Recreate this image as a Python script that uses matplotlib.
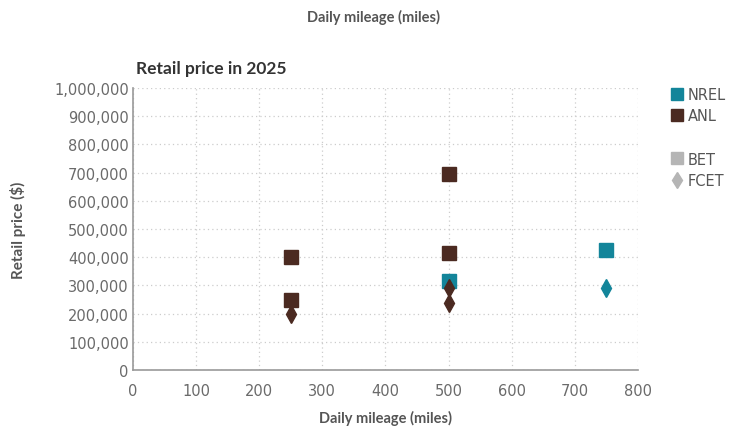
import matplotlib.pyplot as plt
from matplotlib.lines import Line2D
from matplotlib.ticker import FuncFormatter

# --- DATA ---
nrel_bet_miles = [500, 750]
nrel_bet_price = [314000, 425000]
nrel_fcet_miles = [750]
nrel_fcet_price = [290000]

anl_bet_miles = [250, 250, 500, 500]
anl_bet_price = [400000, 250000, 695000, 415000]
anl_fcet_miles = [250, 500, 500]
anl_fcet_price = [200000, 292000, 238000]

x_ticks = [0, 100, 200, 300, 400, 500, 600, 700, 800]
y_ticks = list(range(0, 1000001, 100000))

TEAL = "#13859a"
BROWN = "#4b2a21"
GREY = "#555555"
TICK_GREY = "#6a6a6a"
LEG_GREY = "#b5b5b5"

plt.rcParams['font.family'] = ['Lato', 'DejaVu Sans']

fig = plt.figure(figsize=(7.29, 4.27), dpi=100)
ax = fig.add_axes([0.1824, 0.1311, 0.6926, 0.6605])

ax.grid(True, linestyle=(0, (1, 2.5)), color="#cccccc", linewidth=0.9)
ax.set_axisbelow(True)

sq = dict(marker='s', linestyle='none', markersize=10)
dm = dict(marker='d', linestyle='none', markersize=8.8)
# NREL first so the ANL diamonds sit on top of the teal square at 500 miles
ax.plot(nrel_bet_miles, nrel_bet_price, color=TEAL, **sq)
ax.plot(nrel_fcet_miles, nrel_fcet_price, color=TEAL, **dm)
ax.plot(anl_bet_miles, anl_bet_price, color=BROWN, **sq)
ax.plot(anl_fcet_miles, anl_fcet_price, color=BROWN, **dm)

ax.set_xlim(0, 800)
ax.set_ylim(0, 1000000)
ax.set_xticks(x_ticks)
ax.set_yticks(y_ticks)
ax.yaxis.set_major_formatter(FuncFormatter(lambda v, p: f"{int(v):,}"))
ax.tick_params(length=0, labelsize=10.5, colors=TICK_GREY)
ax.tick_params(axis='y', pad=3)
ax.tick_params(axis='x', pad=9)
for t in ax.get_xticklabels() + ax.get_yticklabels():
    t.set_fontfamily('DejaVu Sans')
for s in ["top", "right"]:
    ax.spines[s].set_visible(False)
for s in ["left", "bottom"]:
    ax.spines[s].set_color("#999999")
    ax.spines[s].set_linewidth(1.2)

ax.set_xlabel("Daily mileage (miles)", fontsize=10.5, fontweight='bold', color=GREY, labelpad=9)
ax.set_ylabel("Retail price ($)", fontsize=11, fontweight='bold', color=GREY)
ax.yaxis.set_label_coords(-0.212, 0.5)

fig.text(0.512, 0.96, "Daily mileage (miles)", ha='center', va='center',
         fontsize=10.5, fontweight='bold', color=GREY)
fig.text(0.186, 0.838, "Retail price in 2025", ha='left', va='center',
         fontsize=12.5, fontweight='bold', color="#333333")

handles = [
    Line2D([], [], color=TEAL, marker='s', linestyle='none', markersize=8.5),
    Line2D([], [], color=BROWN, marker='s', linestyle='none', markersize=8.5),
    Line2D([], [], linestyle='none'),
    Line2D([], [], color=LEG_GREY, marker='s', linestyle='none', markersize=8.5),
    Line2D([], [], color=LEG_GREY, marker='d', linestyle='none', markersize=8),
]
labels = ["NREL", "ANL", "", "BET", "FCET"]
leg = fig.legend(handles, labels, loc='upper left', bbox_to_anchor=(0.913, 0.808),
                 frameon=False, prop={'family': 'DejaVu Sans', 'size': 10.5},
                 handlelength=0.8, handletextpad=0.3,
                 labelspacing=0.45, borderaxespad=0)
for t in leg.get_texts():
    t.set_color(GREY)

fig.savefig("out.png", dpi=100)
